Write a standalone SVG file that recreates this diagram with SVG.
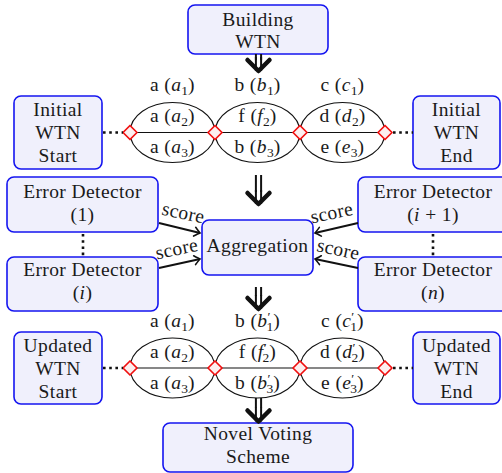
<svg xmlns="http://www.w3.org/2000/svg" width="502" height="473" viewBox="0 0 502 473">
  <style>
    .box { fill: #F0F0FC; stroke: #1414F0; stroke-width: 1.6; }
    .t { font-family: "Liberation Serif", "DejaVu Serif", "Times New Roman", serif; font-size: 19.5px; letter-spacing: 0.4px; fill: #1a1a1a; text-anchor: middle; }
    .m { font-style: italic; }
    .s { font-size: 13.5px; letter-spacing: 0; }
    .edge { fill: none; stroke: #111; stroke-width: 1.1; }
    .node { fill: #FCEFEF; stroke: #F01010; stroke-width: 1.7; stroke-linejoin: round; }
    .dots { stroke: #111; stroke-width: 2.6; stroke-dasharray: 2.6 3.6; fill: none; }
    .score { fill: none; stroke: #111; stroke-width: 2; marker-end: url(#tip); }
    .shaft { stroke: #111; stroke-width: 2; fill: none; }
    .head { stroke: #111; stroke-width: 4.5; fill: none; stroke-linecap: round; stroke-linejoin: round; }
  </style>
  <defs>
    <marker id="tip" markerUnits="userSpaceOnUse" markerWidth="12" markerHeight="12" refX="0" refY="0" viewBox="-7 -6 9 12" orient="auto">
      <path d="M-5.5,-4.5 Q-1.5,-1 0,0 Q-1.5,1 -5.5,4.5" fill="none" stroke="#111" stroke-width="1.6" stroke-linecap="round"/>
    </marker>
    <g id="dbl">
      <line class="shaft" x1="-2.6" y1="0" x2="-2.6" y2="-14"/>
      <line class="shaft" x1="2.6" y1="0" x2="2.6" y2="-14"/>
      <polyline class="head" points="-11,-11 0,0 11,-11"/>
    </g>
  </defs>

  <!-- top box -->
  <g id="building">
    <rect class="box" x="188" y="5" width="140" height="49" rx="7"/>
    <text class="t" x="258" y="25.5">Building</text>
    <text class="t" x="258" y="48">WTN</text>
  </g>

  <!-- first word transition network -->
  <g id="initial-start">
    <rect class="box" x="14" y="96" width="88" height="73" rx="7"/>
    <text class="t" x="58" y="116">Initial</text>
    <text class="t" x="58" y="138.5">WTN</text>
    <text class="t" x="58" y="161.5">Start</text>
  </g>
  <g id="initial-end">
    <rect class="box" x="413" y="96" width="87" height="73" rx="7"/>
    <text class="t" x="456.5" y="116">Initial</text>
    <text class="t" x="456.5" y="138.5">WTN</text>
    <text class="t" x="456.5" y="161.5">End</text>
  </g>
  <g id="wtn1">
    <ellipse class="edge" cx="172.5" cy="132.5" rx="42.5" ry="30"/>
    <ellipse class="edge" cx="257.5" cy="132.5" rx="42.5" ry="30"/>
    <ellipse class="edge" cx="342.5" cy="132.5" rx="42.5" ry="30"/>
    <line class="edge" x1="130" y1="132.5" x2="385" y2="132.5"/>
    <text class="t" x="172.5" y="91">a (<tspan class="m">a</tspan><tspan class="s" dy="4">1</tspan><tspan dy="-4">)</tspan></text>
    <text class="t" x="257.5" y="91">b (<tspan class="m">b</tspan><tspan class="s" dy="4">1</tspan><tspan dy="-4">)</tspan></text>
    <text class="t" x="342.5" y="91">c (<tspan class="m">c</tspan><tspan class="s" dy="4">1</tspan><tspan dy="-4">)</tspan></text>
    <text class="t" x="172.5" y="122">a (<tspan class="m">a</tspan><tspan class="s" dy="4">2</tspan><tspan dy="-4">)</tspan></text>
    <text class="t" x="257.5" y="122">f (<tspan class="m">f</tspan><tspan class="s" dy="4">2</tspan><tspan dy="-4">)</tspan></text>
    <text class="t" x="342.5" y="122">d (<tspan class="m">d</tspan><tspan class="s" dy="4">2</tspan><tspan dy="-4">)</tspan></text>
    <text class="t" x="172.5" y="153">a (<tspan class="m">a</tspan><tspan class="s" dy="4">3</tspan><tspan dy="-4">)</tspan></text>
    <text class="t" x="257.5" y="153">b (<tspan class="m">b</tspan><tspan class="s" dy="4">3</tspan><tspan dy="-4">)</tspan></text>
    <text class="t" x="342.5" y="153">e (<tspan class="m">e</tspan><tspan class="s" dy="4">3</tspan><tspan dy="-4">)</tspan></text>
    <path class="node" d="M130,125.5 L137,132.5 L130,139.5 L123,132.5 Z"/>
    <path class="node" d="M215,125.5 L222,132.5 L215,139.5 L208,132.5 Z"/>
    <path class="node" d="M300,125.5 L307,132.5 L300,139.5 L293,132.5 Z"/>
    <path class="node" d="M385,125.5 L392,132.5 L385,139.5 L378,132.5 Z"/>
  </g>

  <!-- error detectors and aggregation -->
  <g id="detector-1">
    <rect class="box" x="7" y="177" width="151" height="55" rx="7"/>
    <text class="t" x="82.5" y="198">Error Detector</text>
    <text class="t" x="82.5" y="221">(1)</text>
  </g>
  <g id="detector-i">
    <rect class="box" x="7" y="257" width="151" height="54" rx="7"/>
    <text class="t" x="82.5" y="276">Error Detector</text>
    <text class="t" x="82.5" y="299">(<tspan class="m">i</tspan>)</text>
  </g>
  <g id="detector-i1">
    <rect class="box" x="358" y="177" width="151" height="55" rx="7"/>
    <text class="t" x="433" y="198">Error Detector</text>
    <text class="t" x="433" y="221">(<tspan class="m">i</tspan> + 1)</text>
  </g>
  <g id="detector-n">
    <rect class="box" x="358" y="257" width="151" height="54" rx="7"/>
    <text class="t" x="433" y="276">Error Detector</text>
    <text class="t" x="433" y="299">(<tspan class="m">n</tspan>)</text>
  </g>
  <g id="aggregation">
    <rect class="box" x="202" y="220" width="111" height="55" rx="7"/>
    <text class="t" x="257.5" y="252">Aggregation</text>
  </g>

  <!-- second word transition network -->
  <g id="updated-start">
    <rect class="box" x="14" y="332" width="88" height="72" rx="7"/>
    <text class="t" x="58" y="352">Updated</text>
    <text class="t" x="58" y="374.5">WTN</text>
    <text class="t" x="58" y="397.5">Start</text>
  </g>
  <g id="updated-end">
    <rect class="box" x="413" y="332" width="87" height="72" rx="7"/>
    <text class="t" x="456.5" y="352">Updated</text>
    <text class="t" x="456.5" y="374.5">WTN</text>
    <text class="t" x="456.5" y="397.5">End</text>
  </g>
  <g id="wtn2">
    <ellipse class="edge" cx="172.5" cy="368" rx="42.5" ry="30"/>
    <ellipse class="edge" cx="257.5" cy="368" rx="42.5" ry="30"/>
    <ellipse class="edge" cx="342.5" cy="368" rx="42.5" ry="30"/>
    <line class="edge" x1="130" y1="368" x2="385" y2="368"/>
    <text class="t" x="172.5" y="326.5">a (<tspan class="m">a</tspan><tspan class="s" dy="4">1</tspan><tspan dy="-4">)</tspan></text>
    <text class="t" x="257.5" y="326.5">b (<tspan class="m">b</tspan><tspan class="s" dy="-6">′</tspan><tspan class="s" dx="-4" dy="10">1</tspan><tspan dy="-4">)</tspan></text>
    <text class="t" x="342.5" y="326.5">c (<tspan class="m">c</tspan><tspan class="s" dy="-6">′</tspan><tspan class="s" dx="-4" dy="10">1</tspan><tspan dy="-4">)</tspan></text>
    <text class="t" x="172.5" y="357.5">a (<tspan class="m">a</tspan><tspan class="s" dy="4">2</tspan><tspan dy="-4">)</tspan></text>
    <text class="t" x="257.5" y="357.5">f (<tspan class="m">f</tspan><tspan class="s" dy="-6">′</tspan><tspan class="s" dx="-4" dy="10">2</tspan><tspan dy="-4">)</tspan></text>
    <text class="t" x="342.5" y="357.5">d (<tspan class="m">d</tspan><tspan class="s" dy="-6">′</tspan><tspan class="s" dx="-4" dy="10">2</tspan><tspan dy="-4">)</tspan></text>
    <text class="t" x="172.5" y="388.5">a (<tspan class="m">a</tspan><tspan class="s" dy="4">3</tspan><tspan dy="-4">)</tspan></text>
    <text class="t" x="257.5" y="388.5">b (<tspan class="m">b</tspan><tspan class="s" dy="-6">′</tspan><tspan class="s" dx="-4" dy="10">3</tspan><tspan dy="-4">)</tspan></text>
    <text class="t" x="342.5" y="388.5">e (<tspan class="m">e</tspan><tspan class="s" dy="-6">′</tspan><tspan class="s" dx="-4" dy="10">3</tspan><tspan dy="-4">)</tspan></text>
    <path class="node" d="M130,361 L137,368 L130,375 L123,368 Z"/>
    <path class="node" d="M215,361 L222,368 L215,375 L208,368 Z"/>
    <path class="node" d="M300,361 L307,368 L300,375 L293,368 Z"/>
    <path class="node" d="M385,361 L392,368 L385,375 L378,368 Z"/>
  </g>

  <g id="novel-voting">
    <rect class="box" x="163" y="423" width="190" height="49" rx="7"/>
    <text class="t" x="258" y="439.5">Novel Voting</text>
    <text class="t" x="258" y="463">Scheme</text>
  </g>

  <!-- connectors -->
  <g id="connectors">
    <line class="dots" x1="103" y1="132.5" x2="123" y2="132.5"/>
    <line class="dots" x1="393" y1="132.5" x2="413" y2="132.5"/>
    <line class="dots" x1="103" y1="368" x2="123" y2="368"/>
    <line class="dots" x1="393" y1="368" x2="413" y2="368"/>
    <line class="dots" x1="83" y1="234" x2="83" y2="256"/>
    <line class="dots" x1="433" y1="234" x2="433" y2="256"/>

    <line class="score" x1="159" y1="223" x2="200" y2="233"/>
    <line class="score" x1="159" y1="268" x2="200" y2="259"/>
    <line class="score" x1="358" y1="223" x2="315" y2="233"/>
    <line class="score" x1="358" y1="268" x2="315" y2="259"/>
    <text class="t" transform="translate(182,219) rotate(12)">score</text>
    <text class="t" transform="translate(178,255) rotate(-12)">score</text>
    <text class="t" transform="translate(333,219) rotate(-12)">score</text>
    <text class="t" transform="translate(337,255.5) rotate(12)">score</text>

    <use href="#dbl" transform="translate(258.5,71)"/>
    <line class="shaft" x1="255.9" y1="54" x2="255.9" y2="60"/>
    <line class="shaft" x1="261.1" y1="54" x2="261.1" y2="60"/>
    <use href="#dbl" transform="translate(258.5,204)"/>
    <line class="shaft" x1="255.9" y1="175" x2="255.9" y2="192"/>
    <line class="shaft" x1="261.1" y1="175" x2="261.1" y2="192"/>
    <use href="#dbl" transform="translate(258.5,309)"/>
    <line class="shaft" x1="255.9" y1="287" x2="255.9" y2="296"/>
    <line class="shaft" x1="261.1" y1="287" x2="261.1" y2="296"/>
    <use href="#dbl" transform="translate(258.5,421.5)"/>
    <line class="shaft" x1="255.9" y1="398" x2="255.9" y2="408"/>
    <line class="shaft" x1="261.1" y1="398" x2="261.1" y2="408"/>
  </g>
</svg>
